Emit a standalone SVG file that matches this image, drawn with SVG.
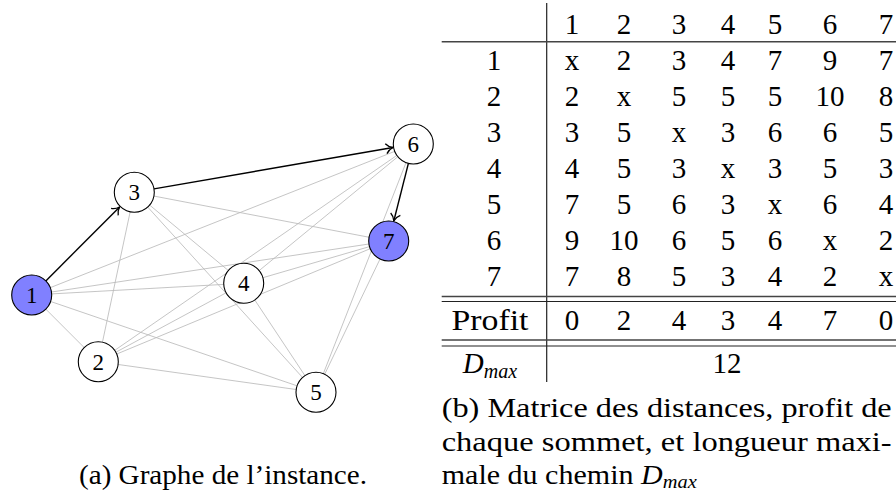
<svg xmlns="http://www.w3.org/2000/svg" width="896" height="496" viewBox="0 0 896 496" font-family="'Liberation Serif', 'Times New Roman', serif">
<style>
.e{stroke:#bababa;stroke-width:0.85;fill:none}
.a{stroke:#000;stroke-width:1.4;fill:none}
.n{fill:#fff;stroke:#000;stroke-width:1.1}
.b{fill:#8080ff;stroke:#000;stroke-width:1.1}
.nl{font-family:'Liberation Serif',serif;font-size:23px;text-anchor:middle;fill:#000}
.t{font-family:'Liberation Serif',serif;font-size:29px;text-anchor:middle;fill:#000}
.c{font-family:'Liberation Serif',serif;font-size:28px;fill:#000}
.r{stroke:#444;stroke-width:1.5}
.v{stroke:#222;stroke-width:1.2}
</style>
<defs>
<marker id="arr" markerUnits="userSpaceOnUse" viewBox="-9 -6 10 12" refX="0" refY="0" markerWidth="10" markerHeight="12" orient="auto">
<path d="M -7 -5 C -5 -2 -2 -0.6 0 0 C -2 0.6 -5 2 -7 5" stroke="#000" stroke-width="1.3" fill="none"/>
</marker>
</defs>
<g id="connectors">
<line class="e" x1="31.7" y1="295" x2="98.3" y2="361.7"/>
<line class="e" x1="31.7" y1="295" x2="243.7" y2="283.3"/>
<line class="e" x1="31.7" y1="295" x2="316" y2="392.3"/>
<line class="e" x1="31.7" y1="295" x2="413.3" y2="144"/>
<line class="e" x1="31.7" y1="295" x2="388.7" y2="241"/>
<line class="e" x1="98.3" y1="361.7" x2="134.3" y2="192.3"/>
<line class="e" x1="98.3" y1="361.7" x2="243.7" y2="283.3"/>
<line class="e" x1="98.3" y1="361.7" x2="316" y2="392.3"/>
<line class="e" x1="98.3" y1="361.7" x2="413.3" y2="144"/>
<line class="e" x1="98.3" y1="361.7" x2="388.7" y2="241"/>
<line class="e" x1="134.3" y1="192.3" x2="243.7" y2="283.3"/>
<line class="e" x1="134.3" y1="192.3" x2="316" y2="392.3"/>
<line class="e" x1="134.3" y1="192.3" x2="388.7" y2="241"/>
<line class="e" x1="243.7" y1="283.3" x2="316" y2="392.3"/>
<line class="e" x1="243.7" y1="283.3" x2="413.3" y2="144"/>
<line class="e" x1="243.7" y1="283.3" x2="388.7" y2="241"/>
<line class="e" x1="316" y1="392.3" x2="413.3" y2="144"/>
<line class="e" x1="316" y1="392.3" x2="388.7" y2="241"/>
<line class="a" x1="45.8" y1="280.9" x2="119.6" y2="207" marker-end="url(#arr)"/>
<line class="a" x1="154" y1="188.9" x2="393" y2="147.5" marker-end="url(#arr)"/>
<line class="a" x1="408.4" y1="163.4" x2="393.8" y2="221" marker-end="url(#arr)"/>
</g>
<g id="node1"><circle class="b" cx="31.7" cy="295" r="20"/><text class="nl" x="31.7" y="303">1</text></g>
<g id="node2"><circle class="n" cx="98.3" cy="361.7" r="20"/><text class="nl" x="98.3" y="369.7">2</text></g>
<g id="node3"><circle class="n" cx="134.3" cy="192.3" r="20"/><text class="nl" x="134.3" y="200.3">3</text></g>
<g id="node4"><circle class="n" cx="243.7" cy="283.3" r="20"/><text class="nl" x="243.7" y="291.3">4</text></g>
<g id="node5"><circle class="n" cx="316" cy="392.3" r="20"/><text class="nl" x="316" y="400.3">5</text></g>
<g id="node6"><circle class="n" cx="413.3" cy="144" r="20"/><text class="nl" x="413.3" y="152">6</text></g>
<g id="node7"><circle class="b" cx="388.7" cy="241" r="20"/><text class="nl" x="388.7" y="249">7</text></g>
<text class="c" x="79" y="484" textLength="288" lengthAdjust="spacingAndGlyphs">(a) Graphe de l’instance.</text>
<g id="table">
<line class="v" x1="546.7" y1="3" x2="546.7" y2="382"/>
<line class="r" x1="441.7" y1="41.7" x2="896" y2="41.7"/>
<line class="r" x1="441.7" y1="296.5" x2="896" y2="296.5"/>
<line class="v" x1="441.7" y1="301.5" x2="896" y2="301.5"/>
<line class="r" x1="441.7" y1="340" x2="896" y2="340"/>
<line class="v" x1="441.7" y1="346" x2="896" y2="346"/>
<g class="t">
<text x="572" y="33.5">1</text><text x="624" y="33.5">2</text><text x="679" y="33.5">3</text><text x="728" y="33.5">4</text><text x="775" y="33.5">5</text><text x="830" y="33.5">6</text><text x="886" y="33.5">7</text>
<text x="494" y="69.5">1</text><text x="572" y="69.5">x</text><text x="624" y="69.5">2</text><text x="679" y="69.5">3</text><text x="728" y="69.5">4</text><text x="775" y="69.5">7</text><text x="830" y="69.5">9</text><text x="886" y="69.5">7</text>
<text x="494" y="105.5">2</text><text x="572" y="105.5">2</text><text x="624" y="105.5">x</text><text x="679" y="105.5">5</text><text x="728" y="105.5">5</text><text x="775" y="105.5">5</text><text x="830" y="105.5">10</text><text x="886" y="105.5">8</text>
<text x="494" y="141.5">3</text><text x="572" y="141.5">3</text><text x="624" y="141.5">5</text><text x="679" y="141.5">x</text><text x="728" y="141.5">3</text><text x="775" y="141.5">6</text><text x="830" y="141.5">6</text><text x="886" y="141.5">5</text>
<text x="494" y="177.5">4</text><text x="572" y="177.5">4</text><text x="624" y="177.5">5</text><text x="679" y="177.5">3</text><text x="728" y="177.5">x</text><text x="775" y="177.5">3</text><text x="830" y="177.5">5</text><text x="886" y="177.5">3</text>
<text x="494" y="213.5">5</text><text x="572" y="213.5">7</text><text x="624" y="213.5">5</text><text x="679" y="213.5">6</text><text x="728" y="213.5">3</text><text x="775" y="213.5">x</text><text x="830" y="213.5">6</text><text x="886" y="213.5">4</text>
<text x="494" y="249.5">6</text><text x="572" y="249.5">9</text><text x="624" y="249.5">10</text><text x="679" y="249.5">6</text><text x="728" y="249.5">5</text><text x="775" y="249.5">6</text><text x="830" y="249.5">x</text><text x="886" y="249.5">2</text>
<text x="494" y="285.5">7</text><text x="572" y="285.5">7</text><text x="624" y="285.5">8</text><text x="679" y="285.5">5</text><text x="728" y="285.5">3</text><text x="775" y="285.5">4</text><text x="830" y="285.5">2</text><text x="886" y="285.5">x</text>
<text x="490" y="329.5" textLength="77" lengthAdjust="spacingAndGlyphs">Profit</text><text x="572" y="329.5">0</text><text x="624" y="329.5">2</text><text x="679" y="329.5">4</text><text x="728" y="329.5">3</text><text x="775" y="329.5">4</text><text x="830" y="329.5">7</text><text x="886" y="329.5">0</text>
<text x="490" y="373"><tspan font-style="italic">D</tspan><tspan font-style="italic" font-size="20" dy="5">max</tspan></text>
<text x="727" y="373">12</text>
</g>
</g>
<g id="caption-b" class="c">
<text x="441.7" y="417" textLength="450" lengthAdjust="spacingAndGlyphs">(b) Matrice des distances, profit de</text>
<text x="441.7" y="451" textLength="450" lengthAdjust="spacingAndGlyphs">chaque sommet, et longueur maxi-</text>
<text x="441.7" y="484" textLength="255" lengthAdjust="spacingAndGlyphs">male du chemin <tspan font-style="italic">D</tspan><tspan font-style="italic" font-size="19" dy="4">max</tspan></text>
</g>
</svg>
